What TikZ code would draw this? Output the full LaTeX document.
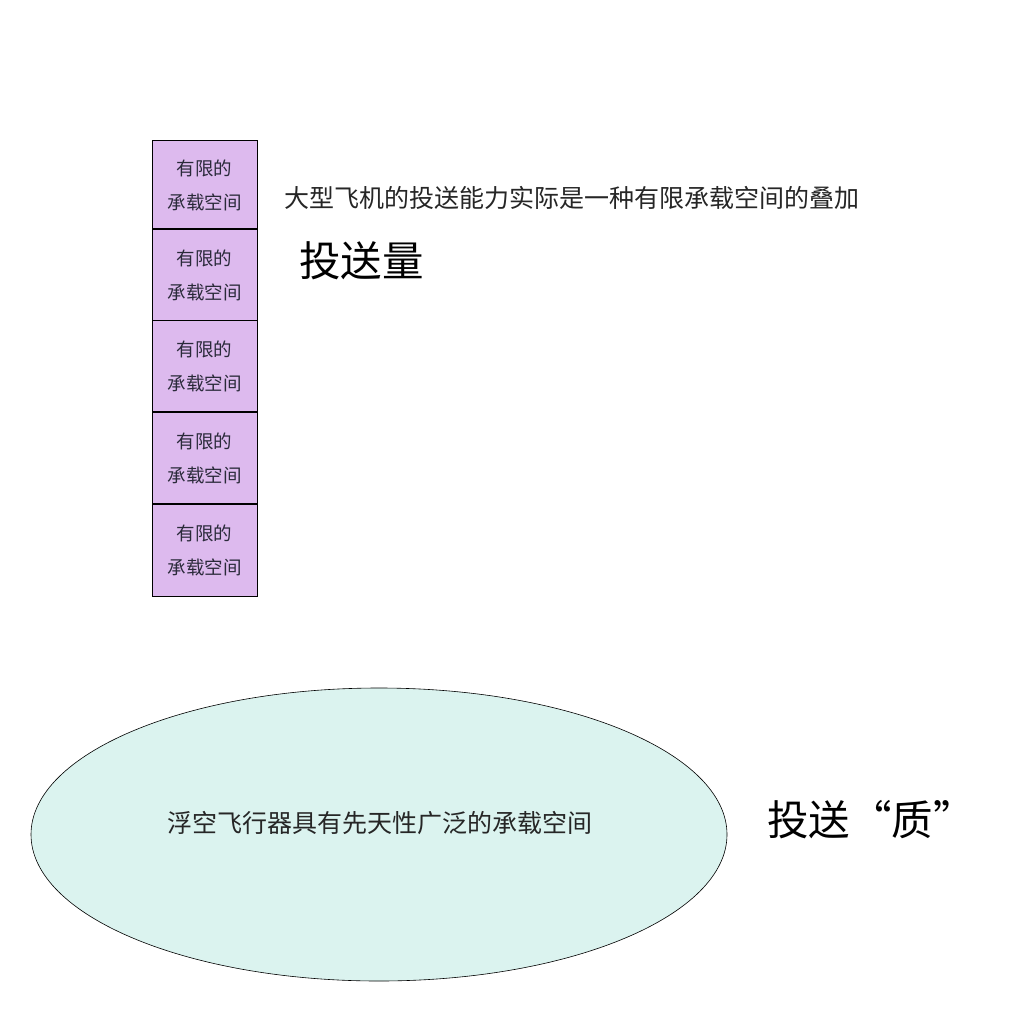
\documentclass[tikz,border=0pt]{standalone}
\usepackage{fontspec}
\setmainfont{Noto Sans CJK SC}
\newfontfamily\cjk{Noto Sans CJK SC}
\usetikzlibrary{shapes.geometric}
\definecolor{boxfill}{HTML}{DDBAEE}
\definecolor{ellfill}{HTML}{DBF3EF}
\definecolor{boxtext}{HTML}{2A2A3A}
\tikzset{
  spacebox/.style={draw=black, line width=0.8pt, fill=boxfill, minimum width=105pt, inner sep=0pt, text=boxtext, font=\cjk\fontsize{18.5}{34}\selectfont, align=center},
  bigtext/.style={font=\cjk\fontsize{41.5}{44}\selectfont, text=black, anchor=west, inner sep=0pt},
  midtext/.style={font=\cjk\fontsize{25}{28}\selectfont, text=black!85, anchor=west, inner sep=0pt}
}
\begin{document}
\begin{tikzpicture}[x=1pt,y=-1pt]
\useasboundingbox (0,0) rectangle (1024,1024);
\fill[white] (0,0) rectangle (1024,1024);
\node[spacebox, minimum height=88pt, text depth=-2pt] (b1) at (204.5,184.5) {有限的\\承载空间};
\node[spacebox, minimum height=91pt, text depth=-2pt] (b2) at (204.5,274.5) {有限的\\承载空间};
\node[spacebox, minimum height=91pt, text depth=-2pt] (b3) at (204.5,365.5) {有限的\\承载空间};
\node[spacebox, minimum height=91pt, text depth=-2pt] (b4) at (204.5,457.5) {有限的\\承载空间};
\node[spacebox, minimum height=92pt, text depth=-2pt] (b5) at (204.5,550) {有限的\\承载空间};
\node[midtext] (t1) at (284,198) {大型飞机的投送能力实际是一种有限承载空间的叠加};
\node[bigtext] (t2) at (299,261) {投送量};
\node[ellipse, draw=black, line width=0.6pt, fill=ellfill, minimum width=696pt, minimum height=293pt, inner sep=0pt] (e) at (379,834.5) {};
\node[font=\cjk\fontsize{25}{30}\selectfont, text=black!85, inner sep=0pt] (et) at (380,823) {浮空飞行器具有先天性广泛的承载空间};
\node[bigtext] (t3) at (767,820) {投送“质”};
\end{tikzpicture}
\end{document}
